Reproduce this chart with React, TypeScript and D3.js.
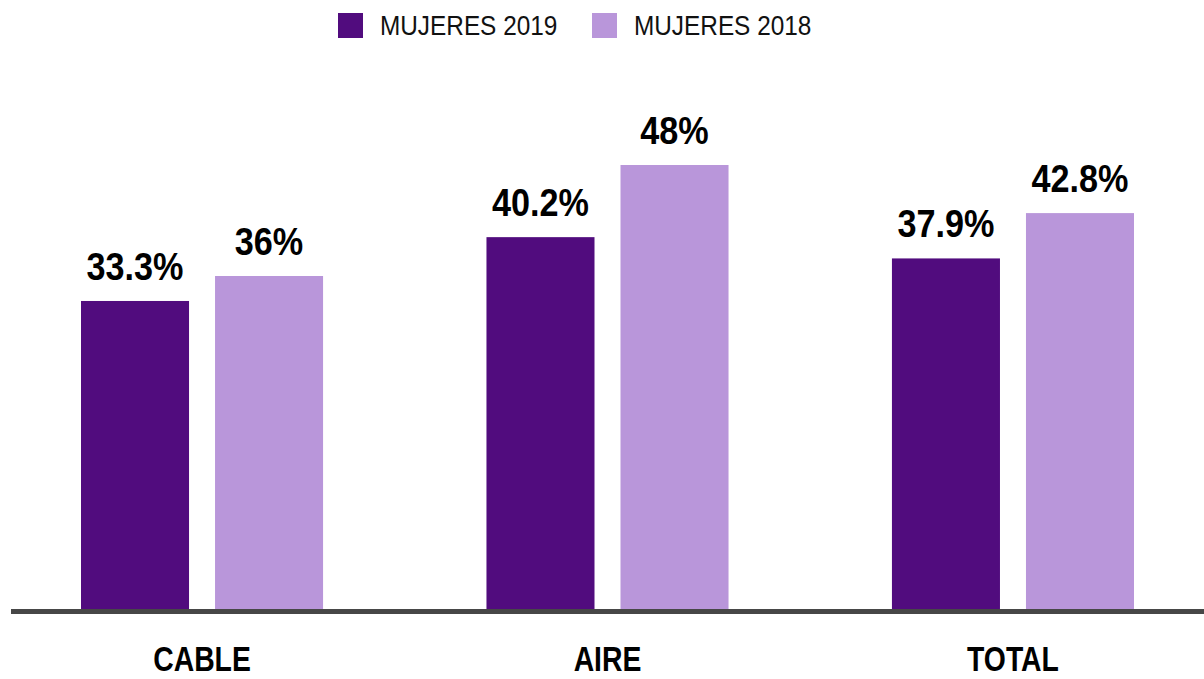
import React from "react";
import * as d3 from "d3";

const categories = ["CABLE", "AIRE", "TOTAL"];
const series = ["MUJERES 2019", "MUJERES 2018"];
const values2019 = [33.3, 40.2, 37.9];
const values2018 = [36, 48, 42.8];
const colors = ["#510c7e", "#b996da"];

const W = 1204;
const H = 679;
const FONT = "'Liberation Sans', Arial, sans-serif";

const App = () => {
  const svgRef = React.useRef<SVGSVGElement>(null);

  React.useEffect(() => {
    const svg = d3.select(svgRef.current);
    svg.selectAll("*").remove();

    const baseline = 609;
    const x0 = d3.scaleBand().domain(categories).range([81, 1134]).paddingInner(0.403).paddingOuter(0);
    const x1 = d3.scaleBand().domain(series).range([0, x0.bandwidth()]).paddingInner(0.194);
    const y = d3.scaleLinear().domain([0, 50]).range([baseline, baseline - 462.5]);

    const rows = categories.map((c, i) => ({ cat: c, vals: [values2019[i], values2018[i]] }));

    const groups = svg
      .append("g")
      .selectAll("g")
      .data(rows)
      .join("g")
      .attr("transform", (d) => `translate(${x0(d.cat)},0)`);

    groups
      .selectAll("rect")
      .data((d) => d.vals.map((v, j) => ({ v, s: series[j], j })))
      .join("rect")
      .attr("x", (d) => x1(d.s)!)
      .attr("y", (d) => y(d.v))
      .attr("width", x1.bandwidth())
      .attr("height", (d) => baseline - y(d.v))
      .attr("fill", (d) => colors[d.j]);

    // value labels, condensed look via horizontal squeeze
    groups
      .selectAll("text")
      .data((d) => d.vals.map((v, j) => ({ v, s: series[j] })))
      .join("text")
      .attr(
        "transform",
        (d) => `translate(${x1(d.s)! + x1.bandwidth() / 2},${y(d.v) - 21}) scale(0.9,1)`
      )
      .attr("text-anchor", "middle")
      .attr("font-family", FONT)
      .attr("font-weight", "bold")
      .attr("font-size", 38)
      .attr("fill", "#000")
      .text((d) => `${d.v}%`);

    // baseline
    svg
      .append("line")
      .attr("x1", 11)
      .attr("x2", W)
      .attr("y1", baseline + 2.5)
      .attr("y2", baseline + 2.5)
      .attr("stroke", "#474747")
      .attr("stroke-width", 5);

    // category labels
    svg
      .append("g")
      .selectAll("text")
      .data(categories)
      .join("text")
      .attr("transform", (d) => `translate(${x0(d)! + x0.bandwidth() / 2},671) scale(0.81,1)`)
      .attr("text-anchor", "middle")
      .attr("font-family", FONT)
      .attr("font-weight", "bold")
      .attr("font-size", 35)
      .attr("fill", "#000")
      .text((d) => d);

    // legend
    const legendX = [338, 592];
    const legend = svg
      .append("g")
      .selectAll("g")
      .data(series)
      .join("g")
      .attr("transform", (d, i) => `translate(${legendX[i]},13)`);
    legend.append("rect").attr("width", 25).attr("height", 25).attr("fill", (d, i) => colors[i]);
    legend
      .append("text")
      .attr("transform", "translate(42,22) scale(0.87,1)")
      .attr("font-family", FONT)
      .attr("font-size", 28)
      .attr("fill", "#111")
      .text((d) => d);
  }, []);

  return (
    <div style={{ position: "absolute", left: 0, top: 0, width: W, height: H, background: "#fff" }}>
      <svg ref={svgRef} width={W} height={H} style={{ display: "block" }} />
    </div>
  );
};

export default App;
